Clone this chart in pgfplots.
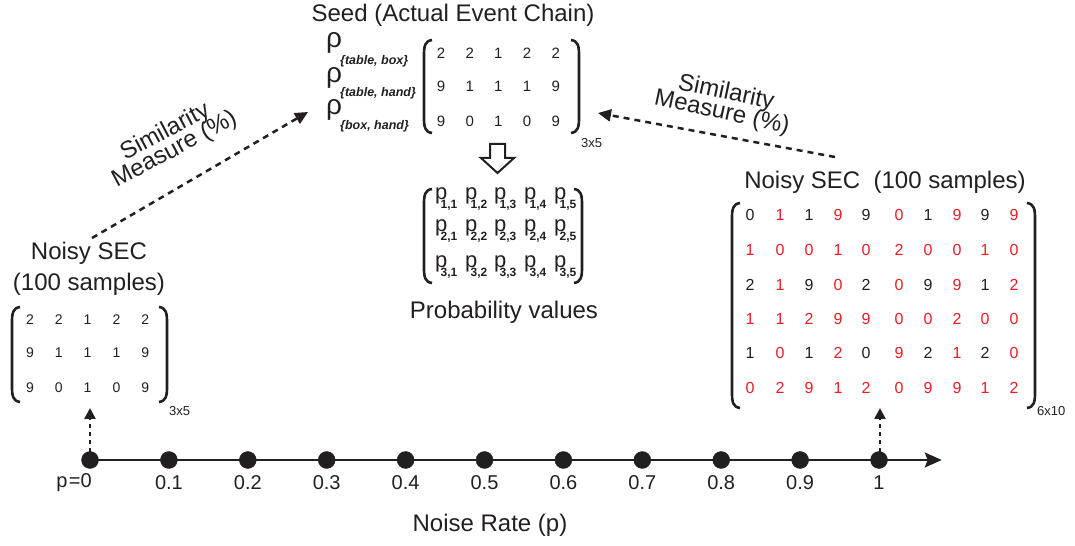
\documentclass[border=0pt]{standalone}
\usepackage{pgfplots}
\pgfplotsset{compat=1.18}
\usetikzlibrary{arrows.meta}
\usepackage{fontspec}
\setmainfont{Liberation Sans}
\definecolor{ink}{RGB}{35,31,32}
\definecolor{myred}{RGB}{237,28,36}
\newcommand{\fs}[1]{\fontsize{#1bp}{#1bp}\selectfont}
% brackets in pixel coordinates: x, top, bottom
\newcommand{\lbrk}[3]{\draw[line width=2.6bp, ink] ({#1+8},#2) .. controls ({#1+1},{#2+1}) and (#1,{#2+6}) .. (#1,{#2+15}) -- (#1,{#3-15}) .. controls (#1,{#3-6}) and ({#1+1},{#3-1}) .. ({#1+8},#3);}
\newcommand{\rbrk}[3]{\draw[line width=2.6bp, ink] ({#1-8},#2) .. controls ({#1-1},{#2+1}) and (#1,{#2+6}) .. (#1,{#2+15}) -- (#1,{#3-15}) .. controls (#1,{#3-6}) and ({#1-1},{#3-1}) .. ({#1-8},#3);}
\begin{document}
\begin{tikzpicture}
\path[use as bounding box] (0,0) rectangle (1075bp,546bp);
\begin{axis}[at={(0,0)}, anchor=south west, scale only axis,
  width=1075bp, height=546bp,
  xmin=-0.11407, xmax=1.24842, ymin=-86, ymax=460,
  hide axis, clip=false]
% number line
\addplot[ink, line width=2bp, -{Stealth[length=17bp,width=15bp,inset=3bp]}] coordinates {(0,0) (1.0795,0)};
% noise-rate points
\addplot[only marks, mark=*, mark size=8.5bp, mark options={fill=ink, draw=ink}] coordinates {
(0,0) (0.1,0) (0.2,0) (0.3,0) (0.4,0) (0.5,0) (0.6,0) (0.7,0) (0.8,0) (0.9,0) (1,0)};
\end{axis}
\begin{scope}[x=1bp, y=-1bp, yshift=546bp, every node/.style={text=ink, inner sep=0}]
% ---- tick labels ----
\node[font=\fs{20}, anchor=east] at (92,483) {p\kern1.5bp=0};
\foreach \v in {0.1,0.2,0.3,0.4,0.5,0.6,0.7,0.8,0.9}{
  \node[font=\fs{20}] at ({90+789*\v},483) {\v};}
\node[font=\fs{20}] at (879,483) {1};
\node[font=\fs{24}] at (490,525) {Noise Rate (p)};
% ---- Seed ----
\node[font=\fs{24}] at (453,15) {Seed (Actual Event Chain)};
\lbrk{424}{40}{133}
\rbrk{579}{40}{133}
\foreach \y/\row in {53/{2,2,1,2,2},86/{9,1,1,1,9},121/{9,0,1,0,9}}{
  \foreach \v [count=\c] in \row {
    \node[font=\fs{15}] at ({441+(\c-1)*28.7},\y) {\v};}}
\node[font=\fs{28}, anchor=base west] at (326,48) {ρ};
\node[font=\fs{28}, anchor=base west] at (326,83) {ρ};
\node[font=\fs{28}, anchor=base west] at (326,115) {ρ};
\node[font=\fs{12.5}\bfseries\itshape, anchor=base west] at (340,65) {\{table, box\}};
\node[font=\fs{12.5}\bfseries\itshape, anchor=base west] at (340,97) {\{table, hand\}};
\node[font=\fs{12.5}\bfseries\itshape, anchor=base west] at (340,130) {\{box, hand\}};
\node[font=\fs{13}, anchor=west] at (581,143) {3x5};
% hollow arrow
\draw[ink, line width=2bp, line join=miter] (490,144) -- (505,144) -- (505,158) -- (514,158) -- (497.5,173) -- (481,158) -- (490,158) -- cycle;
% ---- probability values ----
\lbrk{424}{189}{283}
\rbrk{582}{189}{283}
\foreach \yb [count=\r] in {200,232,268}{
  \foreach \xl [count=\c] in {435,465,494,524,554}{
    \node[font=\fs{22}, anchor=base west] at (\xl,\yb) {p};
    \node[font=\fs{12}\bfseries, anchor=base west] at ({\xl+5.5},{\yb+8.5}) {\r,\c};}}
\node[font=\fs{24}] at (504,312) {Probability values};
% ---- left noisy SEC ----
\node[font=\fs{24}] at (89,253) {Noisy SEC};
\node[font=\fs{24}] at (89,284) {(100 samples)};
\lbrk{12}{307}{402}
\rbrk{167}{307}{402}
\foreach \y/\row in {320/{2,2,1,2,2},353/{9,1,1,1,9},388/{9,0,1,0,9}}{
  \foreach \v [count=\c] in \row {
    \node[font=\fs{14}] at ({30+(\c-1)*28.8},\y) {\v};}}
\node[font=\fs{13}, anchor=west] at (169,411) {3x5};
% ---- right noisy SEC ----
\node[font=\fs{24}] at (885,182) {Noisy SEC\ \ (100 samples)};
\lbrk{732}{203}{408}
\rbrk{1035}{203}{408}
\foreach \y/\row in {
 215/{0/ink,1/myred,1/ink,9/myred,9/ink,0/myred,1/ink,9/myred,9/ink,9/myred},
 250/{1/myred,0/myred,0/myred,1/myred,0/myred,2/myred,0/myred,0/myred,1/myred,0/myred},
 285/{2/ink,1/myred,9/ink,0/myred,2/ink,0/myred,9/ink,9/myred,1/ink,2/myred},
 319/{1/myred,1/myred,2/myred,9/myred,9/myred,0/myred,0/myred,2/myred,0/myred,0/myred},
 353/{1/ink,0/myred,1/ink,2/myred,0/ink,9/myred,2/ink,1/myred,2/ink,0/myred},
 388/{0/myred,2/myred,9/myred,1/myred,2/myred,0/myred,9/myred,9/myred,1/myred,2/myred}}{
  \foreach \v/\cc [count=\c] in \row {
    \pgfmathsetmacro\xx{{750,780,809,838,866,899,928,957,985,1014}[\c-1]}
    \node[font=\fs{16}, text=\cc] at (\xx,\y) {\v};}}
\node[font=\fs{13}, anchor=west] at (1037,411) {6x10};
% ---- similarity arrows ----
\draw[ink, line width=2.5bp, dash pattern=on 6bp off 5bp, -{Triangle[length=13bp,width=12bp]}] (92,238) -- (308,112);
\node[font=\fs{24}, align=center, rotate=28] at (170,141) {Similarity\\[-4bp]Measure (\%)};
\draw[ink, line width=2.5bp, dash pattern=on 6bp off 5bp, -{Triangle[length=13bp,width=12bp]}] (835,157) -- (598,113);
\node[font=\fs{24}, align=center, rotate=-12] at (724,103) {Similarity\\[-4bp]Measure (\%)};
% ---- vertical dotted arrows ----
\draw[ink, line width=2.5bp, dash pattern=on 4bp off 4bp, -{Triangle[length=11bp,width=11bp]}] (90,452) -- (90,408);
\draw[ink, line width=2.5bp, dash pattern=on 4bp off 4bp, -{Triangle[length=11bp,width=11bp]}] (880,452) -- (880,408);
\end{scope}
\end{tikzpicture}
\end{document}
